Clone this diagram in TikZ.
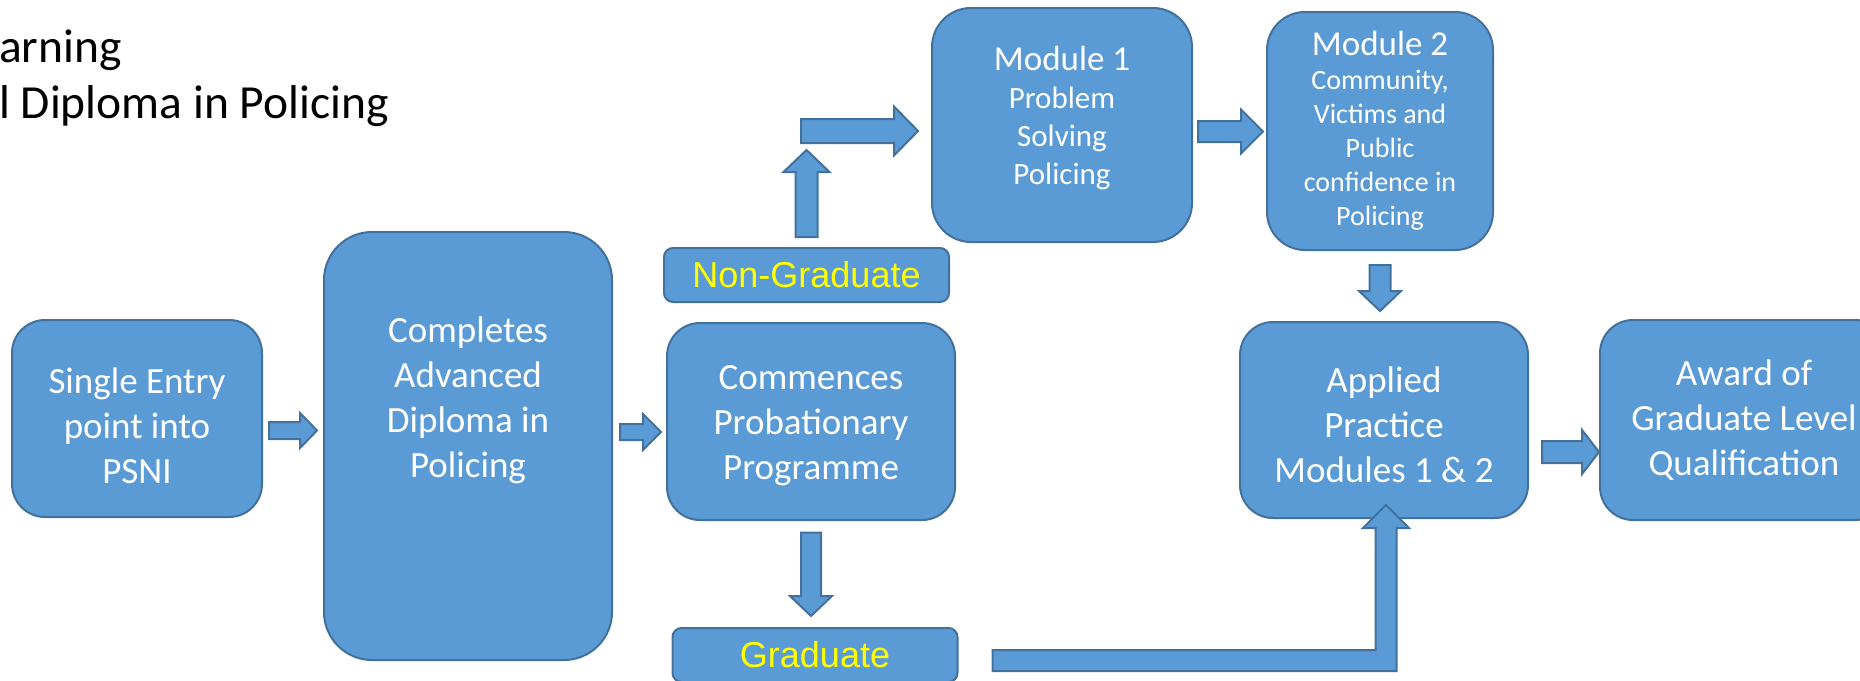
\documentclass[tikz,border=0pt]{standalone}
\usepackage{fontspec}
\setmainfont{Carlito}
\newfontfamily\arialfont{Liberation Sans}
\usetikzlibrary{calc}

\definecolor{boxblue}{HTML}{5B9BD5}
\definecolor{edgeblue}{HTML}{41719C}
\definecolor{labelyellow}{HTML}{FFFF00}

\tikzset{
  stage/.style={draw=edgeblue, fill=boxblue, line width=2pt, text=white,
    align=center, inner sep=0pt, font=\fontsize{37}{45}\selectfont},
  route/.style={stage, rounded corners=9pt, minimum width=285pt, minimum height=54pt,
    text=labelyellow, font=\arialfont\fontsize{36}{40}\selectfont},
  barrow/.style n args={3}{draw=edgeblue, fill=boxblue, line width=2pt,
    to path={(\tikztostart) coordinate (bas) (\tikztotarget) coordinate (bat)
      ($(bat)!#3!(bas)$) coordinate (bah)
      ($(bas)!#1!90:(bat)$) -- ($(bah)!#1!90:(bat)$) -- ($(bah)!#2!90:(bat)$)
      -- (bat) -- ($(bah)!#2!-90:(bat)$) -- ($(bah)!#1!-90:(bat)$)
      -- ($(bas)!#1!-90:(bat)$) -- cycle}}
}

\begin{document}
\begin{tikzpicture}[x=1pt, y=-1pt]
  \useasboundingbox (0,0) rectangle (1860,680);

  \node[anchor=base west, inner sep=0pt, font=\fontsize{47.5}{57}\selectfont] (title1) at (-1,62) {arning};
  \node[anchor=base west, inner sep=0pt, font=\fontsize{47.5}{57}\selectfont] (title2) at (-1,118) {l Diploma in Policing};

  \node[stage, rounded corners=33pt, minimum width=250pt, minimum height=197pt, text height=130pt] (entry) at (137,418.5) {Single Entry\\point into\\PSNI};
  \node[stage, rounded corners=48pt, minimum width=288pt, minimum height=428pt, text depth=98pt] (completes) at (468,446) {Completes\\Advanced\\Diploma in\\Policing};
  \node[route] (nongrad) at (806.5,275) {Non-Graduate};
  \node[stage, rounded corners=33pt, minimum width=288pt, minimum height=197pt, text height=122pt] (commences) at (811,421.5) {Commences\\Probationary\\Programme};
  \node[route] (grad) at (815,655) {Graduate};
  \node[stage, rounded corners=39pt, minimum width=260pt, minimum height=234pt, font=\fontsize{31}{38}\selectfont, text depth=20pt] (module1) at (1062,125)
    {{\fontsize{35}{39}\selectfont Module 1}\\Problem\\Solving\\Policing};
  \node[stage, rounded corners=38pt, minimum width=226pt, minimum height=238pt, font=\fontsize{28}{34}\selectfont] (module2) at (1380,131)
    {{\fontsize{35}{37}\selectfont Module 2}\\Community,\\Victims and\\Public\\confidence in\\Policing};
  \node[stage, rounded corners=33pt, minimum width=288pt, minimum height=196pt, text height=126pt] (applied) at (1384,420) {Applied\\Practice\\Modules 1 \& 2};
  \node[stage, rounded corners=33pt, minimum width=288pt, minimum height=200pt] (award) at (1744,420) {Award of\\Graduate Level\\Qualification};

  \coordinate (ngturn) at (801,131);

  \draw[barrow={8.5pt}{17.5pt}{17pt}] ([xshift=6,yshift=-12]entry.east) to ([xshift=-6,yshift=15.5]completes.west);
  \draw[barrow={8pt}{18pt}{18pt}] ([xshift=7,yshift=14]completes.east) to ([xshift=-5,yshift=-10.5]commences.west);
  \draw[barrow={11pt}{23pt}{22pt}] ([yshift=10]nongrad.north) to ([yshift=97]nongrad.north);
  \draw[barrow={12pt}{24.5pt}{24pt}] (ngturn) to ([xshift=-13,yshift=-6]module1.west);
  \draw[barrow={10.5pt}{22pt}{22pt}] ([xshift=5,yshift=-6.5]module1.east) to ([xshift=-3,yshift=-0.5]module2.west);
  \draw[barrow={10.5pt}{21pt}{20pt}] ([yshift=-14]module2.south) to ([xshift=-4,yshift=10]applied.north);
  \draw[barrow={10pt}{21pt}{20pt}] ([yshift=-11.5]commences.south) to ([xshift=-4,yshift=11]grad.north);
  \draw[barrow={11pt}{22pt}{17pt}] ([xshift=13,yshift=-32]applied.east) to ([yshift=-32]award.west);

  \coordinate (gtip) at ([xshift=2,yshift=14]applied.south);
  \coordinate (gbar) at ([xshift=34,yshift=-5.5]grad.east);
  \draw[draw=edgeblue, fill=boxblue, line width=2pt]
    ($(gbar)+(0,-10.5)$) -- ($(gtip|-gbar)+(-10.5,-10.5)$) -- ($(gtip)+(-10.5,23)$) -- ($(gtip)+(-23,23)$)
    -- (gtip) -- ($(gtip)+(23,23)$) -- ($(gtip)+(10.5,23)$) -- ($(gtip|-gbar)+(10.5,10.5)$)
    -- ($(gbar)+(0,10.5)$) -- cycle;
\end{tikzpicture}
\end{document}
